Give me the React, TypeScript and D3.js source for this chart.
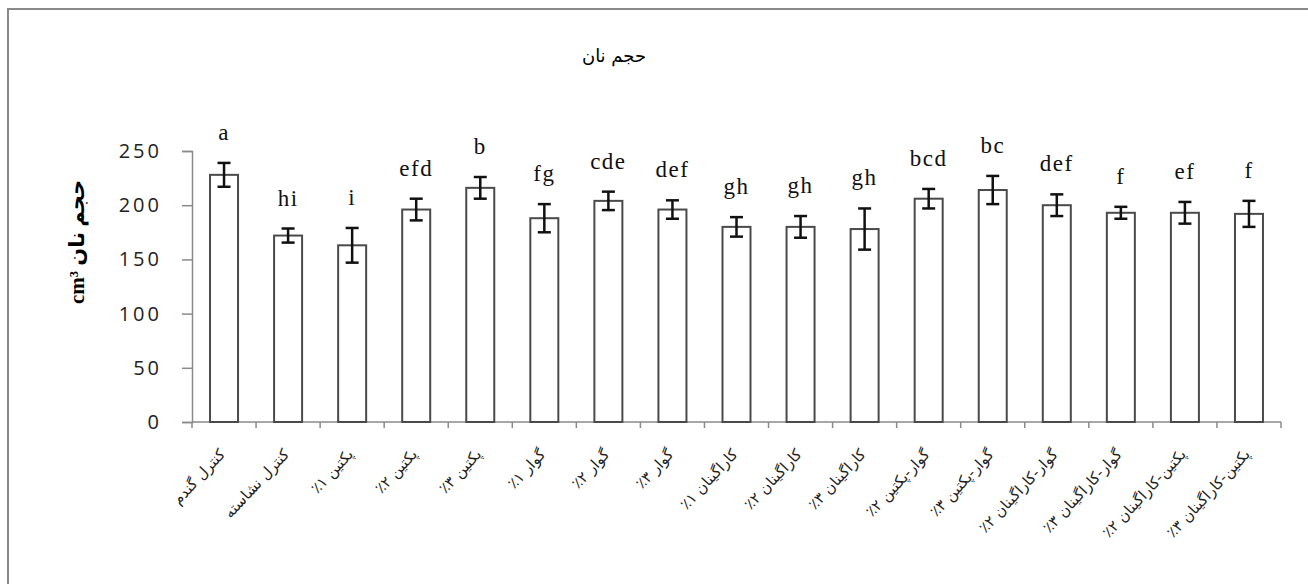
import React, { useEffect, useRef } from "react";
import * as d3 from "d3";

const categories = [
  "کنترل گندم",
  "کنترل نشاسته",
  "پکتین ۱٪",
  "پکتین ۲٪",
  "پکتین ۳٪",
  "گوار ۱٪",
  "گوار ۲٪",
  "گوار ۳٪",
  "کاراگینان ۱٪",
  "کاراگینان ۲٪",
  "کاراگینان ۳٪",
  "گوار-پکتین ۲٪",
  "گوار-پکتین ۳٪",
  "گوار-کاراگینان ۲٪",
  "گوار-کاراگینان ۳٪",
  "پکتین-کاراگینان ۲٪",
  "پکتین-کاراگینان ۳٪",
];
const means = [228, 172, 163, 196, 216, 188, 204, 196, 180, 180, 178, 206, 214, 200, 193, 193, 192];
const errors = [11, 6.5, 16, 10, 10, 13, 8.5, 8.5, 9, 10, 19, 9, 13, 10, 5.5, 10, 12];
const letters = ["a", "hi", "i", "efd", "b", "fg", "cde", "def", "gh", "gh", "gh", "bcd", "bc", "def", "f", "ef", "f"];
const yTicks = [0, 50, 100, 150, 200, 250];

const W = 1308;
const H = 584;

const App = () => {
  const ref = useRef<SVGSVGElement>(null);

  useEffect(() => {
    const svg = d3.select(ref.current);
    svg.selectAll("*").remove();

    const left = 192;
    const right = 1281;
    const top = 151;
    const bottom = 422;

    const x = d3.scaleBand().domain(categories).range([left, right]).padding(0);
    const y = d3.scaleLinear().domain([0, 250]).range([bottom, top]);
    const barW = 28;
    const data = categories.map((c, i) => ({ c, v: means[i], e: errors[i], l: letters[i] }));

    // frame (only top and left edges visible)
    svg.append("rect")
      .attr("x", 8).attr("y", 9)
      .attr("width", W + 20).attr("height", H + 20)
      .attr("fill", "white")
      .attr("stroke", "#8a8a8a")
      .attr("stroke-width", 2);

    // title
    svg.append("text")
      .attr("x", 614).attr("y", 62)
      .attr("text-anchor", "middle")
      .attr("font-family", "DejaVu Sans, sans-serif")
      .attr("font-size", 18)
      .text("حجم نان");

    // y axis
    const yAxis = svg.append("g")
      .attr("transform", `translate(${left},0)`)
      .call(d3.axisLeft(y).tickValues(yTicks).tickSize(10).tickPadding(20).tickFormat(d3.format("d")));
    yAxis.select(".domain").attr("stroke", "#8a8a8a").attr("stroke-width", 1.5);
    yAxis.selectAll(".tick line").attr("stroke", "#8a8a8a").attr("stroke-width", 1.5);
    yAxis.selectAll(".tick text")
      .attr("font-family", "Open Sans, sans-serif")
      .attr("font-size", 20)
      .attr("letter-spacing", 3)
      .attr("fill", "#222");

    // y label
    svg.append("text")
      .attr("transform", `translate(84, 242) rotate(-90)`)
      .attr("text-anchor", "middle")
      .attr("font-family", "Liberation Serif, DejaVu Sans, serif")
      .attr("font-weight", "bold")
      .attr("font-size", 21)
      .text("cm³ حجم نان");

    // x axis
    svg.append("line")
      .attr("x1", left).attr("x2", right)
      .attr("y1", bottom).attr("y2", bottom)
      .attr("stroke", "#8a8a8a").attr("stroke-width", 1.5);
    svg.append("g")
      .selectAll("line")
      .data(d3.range(categories.length + 1))
      .join("line")
      .attr("x1", (i) => left + i * x.bandwidth())
      .attr("x2", (i) => left + i * x.bandwidth())
      .attr("y1", bottom).attr("y2", bottom + 6)
      .attr("stroke", "#8a8a8a").attr("stroke-width", 1.5);

    // bars
    svg.append("g")
      .selectAll("rect")
      .data(data)
      .join("rect")
      .attr("x", (d) => x(d.c)! + x.bandwidth() / 2 - barW / 2)
      .attr("y", (d) => y(d.v))
      .attr("width", barW)
      .attr("height", (d) => bottom - y(d.v))
      .attr("fill", "white")
      .attr("stroke", "#4a4a4a")
      .attr("stroke-width", 2);

    // error bars
    const eb = svg.append("g").attr("stroke", "#111").attr("stroke-width", 2.5);
    data.forEach((d) => {
      const cx = x(d.c)! + x.bandwidth() / 2;
      eb.append("line").attr("x1", cx).attr("x2", cx).attr("y1", y(d.v + d.e)).attr("y2", y(d.v - d.e));
      eb.append("line").attr("x1", cx - 6.5).attr("x2", cx + 6.5).attr("y1", y(d.v + d.e)).attr("y2", y(d.v + d.e));
      eb.append("line").attr("x1", cx - 6.5).attr("x2", cx + 6.5).attr("y1", y(d.v - d.e)).attr("y2", y(d.v - d.e));
    });

    // significance letters
    svg.append("g")
      .selectAll("text")
      .data(data)
      .join("text")
      .attr("x", (d) => x(d.c)! + x.bandwidth() / 2)
      .attr("y", (d) => y(d.v + d.e) - 23)
      .attr("text-anchor", "middle")
      .attr("font-family", "Liberation Serif, serif")
      .attr("font-size", 23)
      .attr("letter-spacing", 1.5)
      .attr("fill", "#111")
      .text((d) => d.l);

    // category labels (rtl so the percent sits on the left)
    svg.append("g")
      .selectAll("text")
      .data(categories)
      .join("text")
      .attr("transform", (c) => `translate(${x(c)! + x.bandwidth() / 2 + 2}, 455) rotate(-47)`)
      .attr("direction", "rtl")
      .attr("text-anchor", "start")
      .attr("font-family", "DejaVu Sans, sans-serif")
      .attr("font-size", 15)
      .attr("fill", "#222")
      .text((c) => c);
  }, []);

  return (
    <div style={{ position: "absolute", left: 0, top: 0 }}>
      <svg ref={ref} width={W} height={H} style={{ display: "block" }}></svg>
    </div>
  );
};

export default App;
